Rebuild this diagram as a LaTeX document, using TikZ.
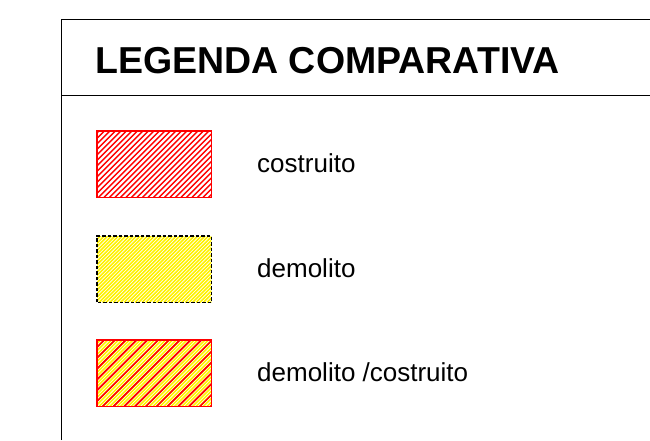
\documentclass[tikz,border=0pt]{standalone}
\usepackage{fontspec}
\setmainfont{Liberation Sans}
\begin{document}
\begin{tikzpicture}[x=1pt,y=-1pt,
  frameline/.style={draw=black, line width=1pt},
  swatch/.style={minimum width=114pt, minimum height=66pt, inner sep=0pt, anchor=north west},
  label/.style={anchor=base west, inner sep=0pt, font=\fontsize{26}{30}\selectfont},
  title/.style={anchor=base west, inner sep=0pt, font=\bfseries\fontsize{37.5}{40}\selectfont},
  redhatch/.style={red, line width=1.3pt},
  yelhatch/.style={yellow, line width=1.6pt},
  redbig/.style={red, line width=1.7pt},
  redborder/.style={draw=red, line width=1.6pt},
  dashborder/.style={draw=black, line width=1.5pt, dash pattern=on 3.5pt off 2pt}
]
\useasboundingbox (0,0) rectangle (650,440);
\fill[white] (0,0) rectangle (650,440);
% frame
\coordinate (fbl) at (61,440);
\coordinate (ftl) at (61,19.5);
\coordinate (ftr) at (650,19.5);
\coordinate (hl) at (61,95.5);
\coordinate (hr) at (650,95.5);
\draw[frameline] (fbl) -- (ftl) -- (ftr);
\draw[frameline] (hl) -- (hr);
% title
\node[title] (t) at (95,73) {LEGENDA COMPARATIVA};
% swatches
\node[swatch] (s1) at (97,131) {};
\node[swatch] (s2) at (97,236) {};
\node[swatch] (s3) at (97,340) {};
% hatching 1
\begin{scope}
  \clip (s1.south west) rectangle (s1.north east);
  \foreach \k in {0,...,40}
    \draw[redhatch] ([xshift=\k*5.5pt-70pt]s1.south west) -- ++(70,-70);
\end{scope}
\draw[redborder] (s1.south west) rectangle (s1.north east);
% hatching 2
\begin{scope}
  \clip (s2.south west) rectangle (s2.north east);
  \foreach \k in {0,...,70}
    \draw[yelhatch] ([xshift=\k*3.6pt-70pt]s2.south west) -- ++(70,-70);
\end{scope}
\draw[dashborder] (s2.south west) rectangle (s2.north east);
% hatching 3
\begin{scope}
  \clip (s3.south west) rectangle (s3.north east);
  \foreach \k in {0,...,70}
    \draw[yelhatch] ([xshift=\k*3.6pt-70pt]s3.south west) -- ++(70,-70);
  \foreach \k in {0,...,22}
    \draw[redbig] ([xshift=\k*10.8pt-70pt]s3.south west) -- ++(70,-70);
\end{scope}
\draw[redborder] (s3.south west) rectangle (s3.north east);
% labels
\node[label] (l1) at (257,172) {costruito};
\node[label] (l2) at (257,277) {demolito};
\node[label] (l3) at (257,381.5) {demolito /costruito};
\end{tikzpicture}
\end{document}
